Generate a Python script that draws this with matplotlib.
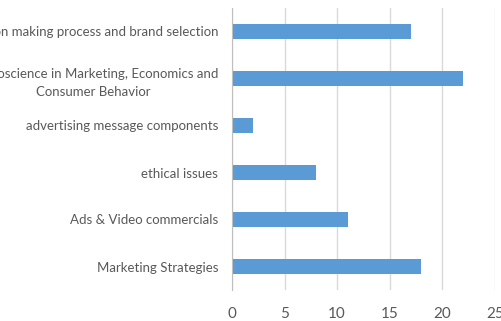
import matplotlib
matplotlib.use("Agg")
import matplotlib.pyplot as plt

# Survey topics (top to bottom as in the chart) and their counts
categories = [
    "Decision making process and brand selection",
    "Neuroscience in Marketing, Economics and\nConsumer Behavior",
    "advertising message components",
    "ethical issues",
    "Ads & Video commercials",
    "Marketing Strategies",
]
counts = [17, 22, 2, 8, 11, 18]
x_ticks = [0, 5, 10, 15, 20, 25]

BAR_COLOR = "#5B9BD5"
TEXT_COLOR = "#595959"
GRID_COLOR = "#D9D9D9"

plt.rcParams["font.family"] = ["Lato", "DejaVu Sans"]

W, H = 501, 321
fig = plt.figure(figsize=(W / 100, H / 100), dpi=100)
ax = fig.add_axes([232 / W, 1 - 290 / H, (494.7 - 232) / W, 282 / H])

pos = list(range(len(categories)))
ax.barh(pos, counts, height=0.34, color=BAR_COLOR, zorder=3)

ax.set_ylim(len(categories) - 0.5, -0.5)
ax.set_xlim(0, 25)
ax.set_xticks(x_ticks)
ax.set_yticks(pos)
ax.set_yticklabels(categories, fontsize=9.5, color=TEXT_COLOR)
for lbl in ax.get_yticklabels():
    lbl.set_multialignment("center")
    lbl.set_linespacing(1.7)
ax.tick_params(axis="x", labelsize=11, labelcolor=TEXT_COLOR, length=0, pad=12)
ax.tick_params(axis="y", length=0, pad=10)

ax.grid(axis="x", color=GRID_COLOR, linewidth=1, zorder=0)
for side in ["top", "right", "bottom"]:
    ax.spines[side].set_visible(False)
ax.spines["left"].set_color("#BFBFBF")
ax.spines["left"].set_zorder(4)

fig.savefig("out.png", dpi=100)
